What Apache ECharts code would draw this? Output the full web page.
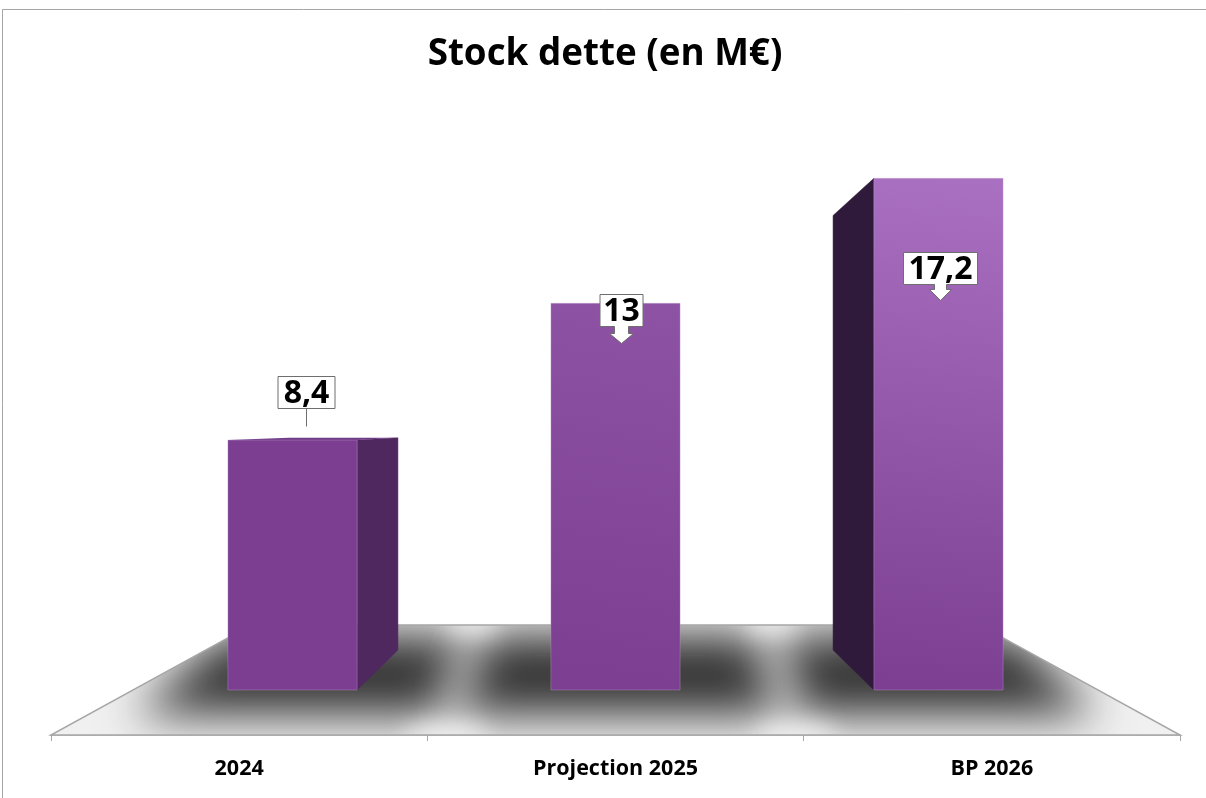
<!DOCTYPE html>
<html>
<head>
<meta charset="utf-8">
<style>html,body{margin:0;padding:0;background:#fff}#c{width:1206px;height:798px}</style>
<script src="https://cdn.jsdelivr.net/npm/echarts@6/dist/echarts.min.js"></script>
</head>
<body>
<div id="c"></div>
<script>
const categories = ['2024', 'Projection 2025', 'BP 2026'];
const stockValues = [8.4, 13, 17.2];
const valueLabels = ['8,4', '13', '17,2'];
const chartTitle = 'Stock dette (en M€)';

// Layout / look (not data)
const FONT = '"Open Sans","Noto Sans",sans-serif';
const VP = { x: 615.5, y: 425 };      // perspective vanishing point
const DEPTH_BAR_X = 0.158;            // bar depth, horizontal fraction of the way to VP
const DEPTH_BAR_Y = 0.1507;           // bar depth, vertical fraction of the way to VP
const DEPTH_FLOOR = 0.355;            // floor depth as a fraction of the way to VP
const LABEL_BOX = [
  { dx: 13.5, dy: -64, w: 57, kind: 'line' },
  { dx: 5, dy: -9, w: 43, kind: 'arrowLong' },
  { dx: 1.5, dy: 74, w: 74, kind: 'arrow' }
];
// Floor shadow outline, in floor-band units, at the front and the back of each bar
const SHADOW_FRONT = [[0.22, 1.03], [1.08, 1.935], [1.99, 2.78]];
const SHADOW_BACK = [[0.46, 1.10], [1.15, 1.875], [1.94, 2.56]];
const SHADOW_NEAR = 20;   // px in front of the axis line
const SHADOW_FAR = 100;
const GAP_FRONT = [1.05, 1.98];
const GAP_BACK = [1.12, 1.915];
const BAR_DARK = [123, 62, 145];
const BAR_LIGHT = [169, 111, 192];

const chart = echarts.init(document.getElementById('c'), null, { renderer: 'canvas' });

function toVP(p, f) {
  return [p[0] + (VP.x - p[0]) * f, p[1] + (VP.y - p[1]) * f];
}
function toVPBar(p) {
  return [p[0] + (VP.x - p[0]) * DEPTH_BAR_X, p[1] + (VP.y - p[1]) * DEPTH_BAR_Y];
}

let texture = null;
function floorTexture(left, band, y) {
  if (texture) return texture;
  const cv = document.createElement('canvas');
  cv.width = 1206; cv.height = 798;
  const g = cv.getContext('2d');
  g.fillStyle = '#f0f0f0';
  g.fillRect(0, 0, 1206, 798);
  g.filter = 'blur(23px)';
  g.fillStyle = '#343434';
  SHADOW_FRONT.forEach(function (s, i) {
    const b = SHADOW_BACK[i];
    g.beginPath();
    g.moveTo(left + s[0] * band, y - SHADOW_NEAR);
    g.lineTo(left + s[1] * band, y - SHADOW_NEAR);
    g.lineTo(left + b[1] * band, y - SHADOW_FAR);
    g.lineTo(left + b[0] * band, y - SHADOW_FAR);
    g.closePath();
    g.fill();
  });
  g.filter = 'blur(11px)';
  g.fillStyle = '#f0f0f0';
  GAP_FRONT.forEach(function (u) {
    g.beginPath();
    g.ellipse(left + u * band, y + 2, 42, 11, 0, 0, Math.PI * 2);
    g.fill();
  });
  GAP_BACK.forEach(function (u) {
    g.beginPath();
    g.ellipse(left + u * band, y - 112, 26, 9, 0, 0, Math.PI * 2);
    g.fill();
  });
  texture = cv;
  return cv;
}

function renderFloor(params, api) {
  const c0 = api.coord([0, 0]);
  const band = api.size([1, 0])[0];
  const left = c0[0] - band / 2;
  const right = left + band * categories.length;
  const y = c0[1];
  const a = [left, y], b = [right, y], c = toVP(b, DEPTH_FLOOR), d = toVP(a, DEPTH_FLOOR);
  return {
    type: 'polygon',
    shape: { points: [a, b, c, d] },
    style: {
      fill: { image: floorTexture(left, band, y), repeat: 'no-repeat' },
      stroke: '#a6a6a6', lineWidth: 1.5
    }
  };
}

function renderBar(params, api) {
  const i = params.dataIndex;
  const v = api.value(1);
  const top = api.coord([i, v]);
  const base = api.coord([i, 0]);
  const w = api.size([1, 0])[0] * 0.4;
  const x0 = base[0] - w / 2, x1 = base[0] + w / 2;
  const yB = base[1], yT = top[1];
  const fl = [x0, yB], fr = [x1, yB], tl = [x0, yT], tr = [x1, yT];
  const bl = toVPBar(fl), br = toVPBar(fr), ttl = toVPBar(tl), ttr = toVPBar(tr);
  const minV = Math.min.apply(null, stockValues), maxV = Math.max.apply(null, stockValues);
  const f = Math.pow((v - minV) / (maxV - minV), 1.35);
  const topColor = 'rgb(' + BAR_DARK.map(function (c, k) {
    return Math.round(c + (BAR_LIGHT[k] - c) * f);
  }).join(',') + ')';
  const frontFill = new echarts.graphic.LinearGradient(x0, yB, x0 + 60, yT, [
    { offset: 0, color: 'rgb(' + BAR_DARK.join(',') + ')' }, { offset: 1, color: topColor }
  ], true);
  const children = [];
  if (x1 < VP.x - w) {
    children.push({ type: 'polygon', z2: 1, shape: { points: [fr, br, ttr, tr] },
      style: { fill: '#4f2860', stroke: '#4f2860', lineWidth: 0.5 } });
  }
  if (x0 > VP.x + w) {
    children.push({ type: 'polygon', z2: 1, shape: { points: [fl, bl, ttl, tl] },
      style: { fill: '#2f1a3b', stroke: '#2f1a3b', lineWidth: 0.5 } });
  }
  if (yT > VP.y) {
    children.push({ type: 'polygon', z2: 1, shape: { points: [tl, tr, ttr, ttl] },
      style: { fill: '#6f3a86' } });
  }
  children.push({ type: 'rect', z2: 2, shape: { x: x0, y: yT, width: w, height: yB - yT },
    style: { fill: frontFill, stroke: 'rgba(205,180,218,0.3)', lineWidth: 1 } });
  return { type: 'group', children: children };
}

function renderLabel(params, api) {
  const i = params.dataIndex;
  const top = api.coord([i, api.value(1)]);
  const L = LABEL_BOX[i];
  const cx = Math.round(top[0] + L.dx) + 0.5, boxTop = Math.round(top[1] + L.dy) + 0.5, h = 32;
  const x0 = cx - L.w / 2, x1 = cx + L.w / 2, yb = boxTop + h;
  const stroke = '#6e6e6e';
  const children = [];
  if (L.kind === 'line') {
    children.push({ type: 'line', shape: { x1: cx, y1: yb, x2: cx, y2: yb + 18 },
      style: { stroke: stroke, lineWidth: 1 } });
    children.push({ type: 'rect', shape: { x: x0, y: boxTop, width: L.w, height: h },
      style: { fill: '#fff', stroke: stroke, lineWidth: 1 } });
  } else {
    const shaft = L.kind === 'arrowLong' ? 7 : 6;
    const neck = L.kind === 'arrowLong' ? 7 : 5;
    const head = L.kind === 'arrowLong' ? 10 : 11;
    const tip = yb + neck + head;
    const pts = [[x0, boxTop], [x1, boxTop], [x1, yb], [cx + shaft, yb], [cx + shaft, yb + neck],
      [cx + shaft + 5, yb + neck], [cx, tip], [cx - shaft - 5, yb + neck], [cx - shaft, yb + neck], [cx - shaft, yb], [x0, yb]];
    children.push({ type: 'polygon', shape: { points: pts },
      style: { fill: '#fff', stroke: stroke, lineWidth: 1 } });
  }
  children.push({ type: 'text', style: {
    x: cx, y: boxTop + h / 2 + 1, text: valueLabels[i], align: 'center', verticalAlign: 'middle',
    fill: '#000', font: 'bold 32px ' + FONT } });
  return { type: 'group', children: children };
}

chart.setOption({
  animation: false,
  backgroundColor: '#fff',
  title: {
    text: chartTitle, left: 600, top: 31, textAlign: 'center',
    textStyle: { fontFamily: FONT, fontWeight: 'bold', fontSize: 36.8, color: '#000' }
  },
  graphic: [{
    type: 'rect', silent: true, z: -1,
    shape: { x: 2.5, y: 9.5, width: 1210, height: 800 },
    style: { fill: 'none', stroke: '#a6a6a6', lineWidth: 1 }
  }],
  grid: [
    { left: 51, top: 100, width: 1129, height: 635 },
    { left: 131, top: 154.5, width: 969, height: 535.5 }
  ],
  xAxis: [
    {
      type: 'category', gridIndex: 0,
      data: categories,
      boundaryGap: true,
      axisLine: { lineStyle: { color: '#a6a6a6', width: 1.5 } },
      axisTick: { show: true, length: 6, alignWithLabel: false, lineStyle: { color: '#a6a6a6', width: 1 } },
      axisLabel: { interval: 0, margin: 23, color: '#000', fontWeight: 'bold', fontSize: 21.5, fontFamily: FONT }
    },
    { type: 'category', gridIndex: 1, data: categories, show: false }
  ],
  yAxis: [
    { type: 'value', gridIndex: 0, min: 0, max: 10, show: false },
    { type: 'value', gridIndex: 1, min: 0, max: 18, interval: 2, show: false }
  ],
  series: [
    { type: 'custom', xAxisIndex: 0, yAxisIndex: 0, z: 1, clip: false, silent: true,
      renderItem: renderFloor, data: [[0, 0]] },
    { type: 'custom', name: 'Stock dette', xAxisIndex: 1, yAxisIndex: 1, z: 3, clip: false,
      renderItem: renderBar, encode: { x: 0, y: 1 },
      data: stockValues.map(function (v, i) { return [i, v]; }) },
    { type: 'custom', xAxisIndex: 1, yAxisIndex: 1, z: 5, clip: false, silent: true,
      renderItem: renderLabel, encode: { x: 0, y: 1 },
      data: stockValues.map(function (v, i) { return [i, v]; }) }
  ]
});
</script>
</body>
</html>
